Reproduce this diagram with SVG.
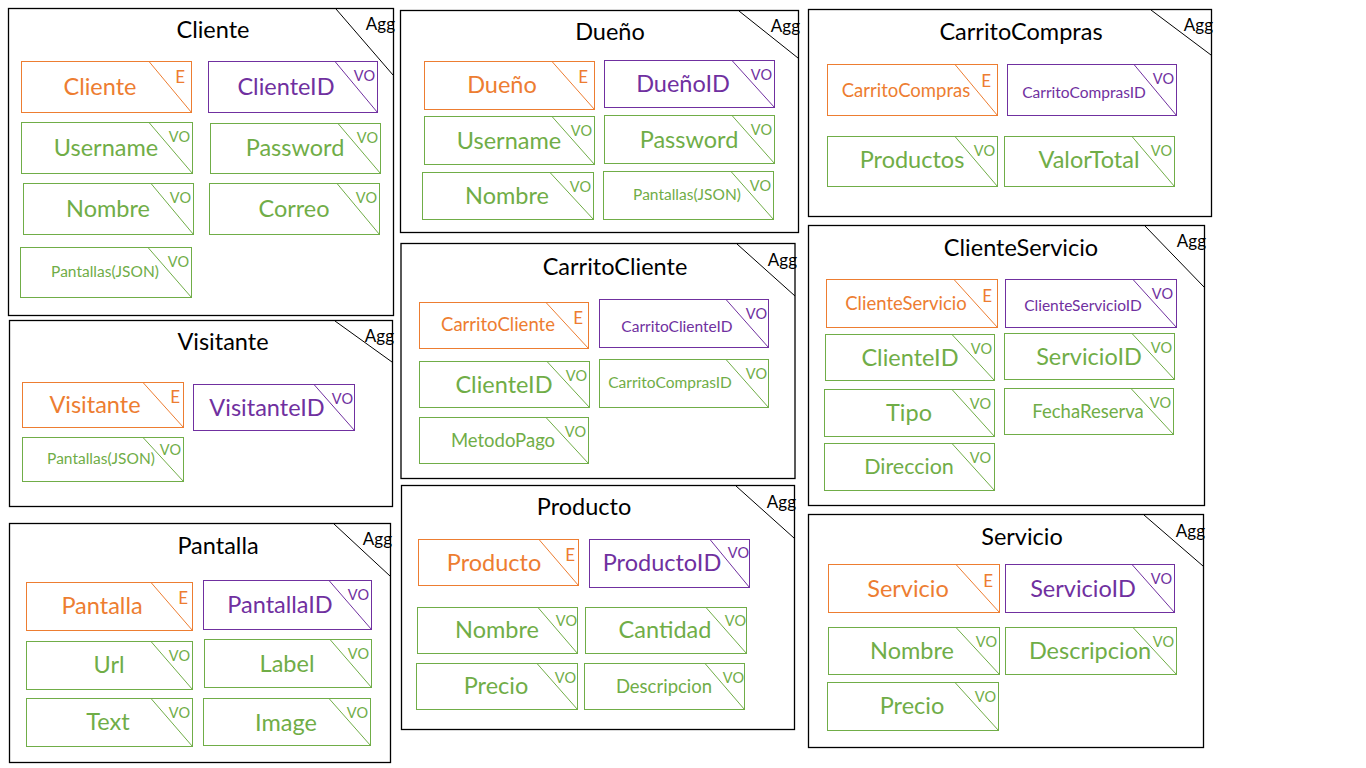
<svg xmlns="http://www.w3.org/2000/svg" width="1366" height="768" viewBox="0 0 1366 768">
<style>
text{font-family:Lato,"Liberation Sans",sans-serif}
.agg>rect{fill:#fff;stroke:#000;stroke-width:1.3}
.agg>line{stroke:#000;stroke-width:1}
.ttl{font-size:23.5px;text-anchor:middle;fill:#000}
.at{font-size:17px;text-anchor:end;fill:#000}
.n rect{fill:none;stroke-width:1}
.n line{stroke-width:1}
.n .l{font-size:23.5px;text-anchor:middle}
.n .s{font-size:18.5px}
.n .x{font-size:15.5px}
.n .k{font-size:14.5px;text-anchor:end}
.n .ke{font-size:17px;text-anchor:end}
.e rect,.e line{stroke:#ED7D31}.e text{fill:#ED7D31}
.i rect,.i line{stroke:#7030A0}.i text{fill:#7030A0}
.v rect,.v line{stroke:#70AD47}.v text{fill:#70AD47}
</style>
<rect width="1366" height="768" fill="#fff"/>
<g id="connectors"/>

<g id="agg-cliente" class="agg">
<rect x="8.5" y="8.5" width="385" height="307"/><line x1="336" y1="9" x2="393" y2="75"/>
<text class="ttl" x="213" y="38">Cliente</text><text class="at" x="395" y="30">Agg</text>
<g id="cliente-e" class="n e"><rect x="21.5" y="61.5" width="170" height="51"/><line x1="149" y1="61.5" x2="191.5" y2="112.5"/><text class="l" x="100" y="95">Cliente</text><text class="ke" x="185" y="83">E</text></g>
<g id="cliente-id" class="n i"><rect x="208.5" y="61.5" width="169" height="51"/><line x1="335" y1="61.5" x2="377.5" y2="112.5"/><text class="l" x="286" y="95">ClienteID</text><text class="k" x="375" y="81">VO</text></g>
<g id="cliente-username" class="n v"><rect x="21.5" y="122.5" width="171" height="51"/><line x1="149" y1="122.5" x2="192.5" y2="173.5"/><text class="l" x="106" y="156">Username</text><text class="k" x="190" y="142">VO</text></g>
<g id="cliente-password" class="n v"><rect x="210.5" y="123.5" width="170" height="50"/><line x1="338" y1="123.5" x2="380.5" y2="173.5"/><text class="l" x="295" y="156">Password</text><text class="k" x="378" y="143">VO</text></g>
<g id="cliente-nombre" class="n v"><rect x="23.5" y="183.5" width="170" height="51"/><line x1="151" y1="183.5" x2="193.5" y2="234.5"/><text class="l" x="108" y="217">Nombre</text><text class="k" x="191" y="203">VO</text></g>
<g id="cliente-correo" class="n v"><rect x="209.5" y="183.5" width="170" height="51"/><line x1="337" y1="183.5" x2="379.5" y2="234.5"/><text class="l" x="294" y="217">Correo</text><text class="k" x="377" y="203">VO</text></g>
<g id="cliente-pantallas" class="n v"><rect x="20.5" y="247.5" width="171" height="50"/><line x1="148" y1="247.5" x2="191.5" y2="297.5"/><text class="l x" x="105" y="277">Pantallas(JSON)</text><text class="k" x="189" y="267">VO</text></g>
</g>

<g id="agg-dueno" class="agg">
<rect x="400.5" y="10.5" width="398" height="222"/><line x1="739" y1="11" x2="798" y2="58"/>
<text class="ttl" x="610" y="40">Dueño</text><text class="at" x="800" y="32">Agg</text>
<g id="dueno-e" class="n e"><rect x="424.5" y="61.5" width="170" height="48"/><line x1="552" y1="61.5" x2="594.5" y2="109.5"/><text class="l" x="502" y="93">Dueño</text><text class="ke" x="588" y="83">E</text></g>
<g id="dueno-id" class="n i"><rect x="604.5" y="60.5" width="170" height="47"/><line x1="732" y1="60.5" x2="774.5" y2="107.5"/><text class="l" x="683" y="92">DueñoID</text><text class="k" x="772" y="80">VO</text></g>
<g id="dueno-username" class="n v"><rect x="424.5" y="116.5" width="170" height="48"/><line x1="552" y1="116.5" x2="594.5" y2="164.5"/><text class="l" x="509" y="149">Username</text><text class="k" x="592" y="136">VO</text></g>
<g id="dueno-password" class="n v"><rect x="604.5" y="115.5" width="170" height="48"/><line x1="732" y1="115.5" x2="774.5" y2="163.5"/><text class="l" x="689" y="148">Password</text><text class="k" x="772" y="135">VO</text></g>
<g id="dueno-nombre" class="n v"><rect x="422.5" y="172.5" width="171" height="47"/><line x1="550" y1="172.5" x2="593.5" y2="219.5"/><text class="l" x="507" y="204">Nombre</text><text class="k" x="591" y="192">VO</text></g>
<g id="dueno-pantallas" class="n v"><rect x="603.5" y="171.5" width="170" height="48"/><line x1="731" y1="171.5" x2="773.5" y2="219.5"/><text class="l x" x="687" y="200">Pantallas(JSON)</text><text class="k" x="771" y="191">VO</text></g>
</g>

<g id="agg-carritocompras" class="agg">
<rect x="808.5" y="9.5" width="403" height="207"/><line x1="1151" y1="10" x2="1211" y2="55"/>
<text class="ttl" x="1021" y="40">CarritoCompras</text><text class="at" x="1213" y="31">Agg</text>
<g id="cc-e" class="n e"><rect x="827.5" y="64.5" width="170" height="51"/><line x1="955" y1="64.5" x2="997.5" y2="115.5"/><text class="l s" x="906" y="97">CarritoCompras</text><text class="ke" x="991" y="87">E</text></g>
<g id="cc-id" class="n i"><rect x="1007.5" y="64.5" width="169" height="51"/><line x1="1134" y1="64.5" x2="1176.5" y2="115.5"/><text class="l x" x="1084" y="98">CarritoComprasID</text><text class="k" x="1174" y="84">VO</text></g>
<g id="cc-productos" class="n v"><rect x="827.5" y="136.5" width="170" height="50"/><line x1="955" y1="136.5" x2="997.5" y2="186.5"/><text class="l" x="912" y="168">Productos</text><text class="k" x="995" y="156">VO</text></g>
<g id="cc-valortotal" class="n v"><rect x="1004.5" y="136.5" width="170" height="50"/><line x1="1132" y1="136.5" x2="1174.5" y2="186.5"/><text class="l" x="1089" y="168">ValorTotal</text><text class="k" x="1172" y="156">VO</text></g>
</g>

<g id="agg-visitante" class="agg">
<rect x="9.5" y="320.5" width="383" height="186"/><line x1="335" y1="321" x2="392" y2="362"/>
<text class="ttl" x="223" y="350">Visitante</text><text class="at" x="394" y="342">Agg</text>
<g id="visitante-e" class="n e"><rect x="22.5" y="382.5" width="161" height="45"/><line x1="143" y1="382.5" x2="183.5" y2="427.5"/><text class="l" x="95" y="413">Visitante</text><text class="ke" x="180" y="403">E</text></g>
<g id="visitante-id" class="n i"><rect x="193.5" y="384.5" width="161" height="46"/><line x1="314" y1="384.5" x2="354.5" y2="430.5"/><text class="l" x="267" y="416">VisitanteID</text><text class="k" x="353" y="404">VO</text></g>
<g id="visitante-pantallas" class="n v"><rect x="22.5" y="437.5" width="161" height="44"/><line x1="143" y1="437.5" x2="183.5" y2="481.5"/><text class="l x" x="101" y="464">Pantallas(JSON)</text><text class="k" x="181" y="455">VO</text></g>
</g>

<g id="agg-carritocliente" class="agg">
<rect x="401" y="243.5" width="394" height="235"/><line x1="737" y1="244" x2="795" y2="296"/>
<text class="ttl" x="615" y="275">CarritoCliente</text><text class="at" x="797" y="266">Agg</text>
<g id="ccl-e" class="n e"><rect x="419.5" y="302.5" width="169" height="46"/><line x1="546" y1="302.5" x2="588.5" y2="348.5"/><text class="l s" x="498" y="331">CarritoCliente</text><text class="ke" x="583" y="324">E</text></g>
<g id="ccl-id" class="n i"><rect x="599.5" y="299.5" width="169" height="48"/><line x1="726" y1="299.5" x2="768.5" y2="347.5"/><text class="l x" x="677" y="332">CarritoClienteID</text><text class="k" x="767" y="319">VO</text></g>
<g id="ccl-clienteid" class="n v"><rect x="419.5" y="361.5" width="170" height="46"/><line x1="547" y1="361.5" x2="589.5" y2="407.5"/><text class="l" x="504" y="393">ClienteID</text><text class="k" x="587" y="381">VO</text></g>
<g id="ccl-carritocomprasid" class="n v"><rect x="599.5" y="359.5" width="169" height="48"/><line x1="726" y1="359.5" x2="768.5" y2="407.5"/><text class="l x" x="670" y="388">CarritoComprasID</text><text class="k" x="767" y="379">VO</text></g>
<g id="ccl-metodopago" class="n v"><rect x="419.5" y="417.5" width="169" height="46"/><line x1="546" y1="417.5" x2="588.5" y2="463.5"/><text class="l s" x="503" y="447">MetodoPago</text><text class="k" x="586" y="437">VO</text></g>
</g>

<g id="agg-clienteservicio" class="agg">
<rect x="808.5" y="225.5" width="396" height="280"/><line x1="1145" y1="226" x2="1204" y2="287"/>
<text class="ttl" x="1021" y="256">ClienteServicio</text><text class="at" x="1206" y="247">Agg</text>
<g id="cs-e" class="n e"><rect x="826.5" y="279.5" width="171" height="48"/><line x1="954" y1="279.5" x2="997.5" y2="327.5"/><text class="l s" x="906" y="310">ClienteServicio</text><text class="ke" x="992" y="302">E</text></g>
<g id="cs-id" class="n i"><rect x="1005.5" y="279.5" width="171" height="48"/><line x1="1133" y1="279.5" x2="1176.5" y2="327.5"/><text class="l x" x="1083" y="311">ClienteServicioID</text><text class="k" x="1173" y="299">VO</text></g>
<g id="cs-clienteid" class="n v"><rect x="825.5" y="334.5" width="169" height="46"/><line x1="952" y1="334.5" x2="994.5" y2="380.5"/><text class="l" x="910" y="366">ClienteID</text><text class="k" x="992" y="354">VO</text></g>
<g id="cs-servicioid" class="n v"><rect x="1004.5" y="333.5" width="170" height="46"/><line x1="1132" y1="333.5" x2="1174.5" y2="379.5"/><text class="l" x="1089" y="365">ServicioID</text><text class="k" x="1172" y="353">VO</text></g>
<g id="cs-tipo" class="n v"><rect x="824.5" y="389.5" width="170" height="47"/><line x1="952" y1="389.5" x2="994.5" y2="436.5"/><text class="l" x="909" y="421">Tipo</text><text class="k" x="991" y="409">VO</text></g>
<g id="cs-fechareserva" class="n v"><rect x="1004.5" y="388.5" width="169" height="46"/><line x1="1131" y1="388.5" x2="1173.5" y2="434.5"/><text class="l s" x="1088" y="418">FechaReserva</text><text class="k" x="1171" y="408">VO</text></g>
<g id="cs-direccion" class="n v"><rect x="824.5" y="443.5" width="170" height="47"/><line x1="952" y1="443.5" x2="994.5" y2="490.5"/><text class="l" x="909" y="474" style="font-size:21.5px">Direccion</text><text class="k" x="991" y="463">VO</text></g>
</g>

<g id="agg-pantalla" class="agg">
<rect x="9.5" y="523.5" width="381" height="239"/><line x1="334" y1="524" x2="390" y2="576"/>
<text class="ttl" x="218" y="554">Pantalla</text><text class="at" x="392" y="545">Agg</text>
<g id="pantalla-e" class="n e"><rect x="26.5" y="582.5" width="166" height="48"/><line x1="151" y1="582.5" x2="192.5" y2="630.5"/><text class="l" x="102" y="614">Pantalla</text><text class="ke" x="188" y="604">E</text></g>
<g id="pantalla-id" class="n i"><rect x="203.5" y="580.5" width="168" height="49"/><line x1="329" y1="580.5" x2="371.5" y2="629.5"/><text class="l" x="280" y="613">PantallaID</text><text class="k" x="369" y="600">VO</text></g>
<g id="pantalla-url" class="n v"><rect x="26.5" y="641.5" width="166" height="48"/><line x1="151" y1="641.5" x2="192.5" y2="689.5"/><text class="l" x="109" y="673">Url</text><text class="k" x="190" y="661">VO</text></g>
<g id="pantalla-label" class="n v"><rect x="204.5" y="639.5" width="167" height="48"/><line x1="330" y1="639.5" x2="371.5" y2="687.5"/><text class="l" x="287" y="672">Label</text><text class="k" x="369" y="659">VO</text></g>
<g id="pantalla-text" class="n v"><rect x="26.5" y="698.5" width="166" height="48"/><line x1="151" y1="698.5" x2="192.5" y2="746.5"/><text class="l" x="108" y="730">Text</text><text class="k" x="190" y="718">VO</text></g>
<g id="pantalla-image" class="n v"><rect x="203.5" y="698.5" width="167" height="47"/><line x1="329" y1="698.5" x2="370.5" y2="745.5"/><text class="l" x="286" y="731">Image</text><text class="k" x="368" y="718">VO</text></g>
</g>

<g id="agg-producto" class="agg">
<rect x="401.5" y="485.5" width="393" height="244"/><line x1="736" y1="486" x2="794" y2="538"/>
<text class="ttl" x="584" y="515">Producto</text><text class="at" x="796" y="508">Agg</text>
<g id="producto-e" class="n e"><rect x="418.5" y="539.5" width="160" height="46"/><line x1="539" y1="539.5" x2="578.5" y2="585.5"/><text class="l" x="494" y="571">Producto</text><text class="ke" x="575" y="561">E</text></g>
<g id="producto-id" class="n i"><rect x="589.5" y="539.5" width="160" height="48"/><line x1="710" y1="539.5" x2="749.5" y2="587.5"/><text class="l" x="662" y="571">ProductoID</text><text class="k" x="749" y="558">VO</text></g>
<g id="producto-nombre" class="n v"><rect x="417.5" y="607.5" width="160" height="46"/><line x1="538" y1="607.5" x2="577.5" y2="653.5"/><text class="l" x="497" y="638">Nombre</text><text class="k" x="577" y="626">VO</text></g>
<g id="producto-cantidad" class="n v"><rect x="585.5" y="607.5" width="161" height="46"/><line x1="706" y1="607.5" x2="746.5" y2="653.5"/><text class="l" x="665" y="638">Cantidad</text><text class="k" x="746" y="626">VO</text></g>
<g id="producto-precio" class="n v"><rect x="416.5" y="663.5" width="161" height="46"/><line x1="537" y1="663.5" x2="577.5" y2="709.5"/><text class="l" x="496" y="694">Precio</text><text class="k" x="576" y="683">VO</text></g>
<g id="producto-descripcion" class="n v"><rect x="584.5" y="663.5" width="160" height="46"/><line x1="705" y1="663.5" x2="744.5" y2="709.5"/><text class="l s" x="664" y="693">Descripcion</text><text class="k" x="744" y="683">VO</text></g>
</g>

<g id="agg-servicio" class="agg">
<rect x="808.5" y="514.5" width="395" height="233"/><line x1="1144" y1="515" x2="1203" y2="566"/>
<text class="ttl" x="1022" y="545">Servicio</text><text class="at" x="1205" y="537">Agg</text>
<g id="servicio-e" class="n e"><rect x="828.5" y="564.5" width="171" height="48"/><line x1="956" y1="564.5" x2="999.5" y2="612.5"/><text class="l" x="908" y="597">Servicio</text><text class="ke" x="993" y="587">E</text></g>
<g id="servicio-id" class="n i"><rect x="1005.5" y="564.5" width="169" height="48"/><line x1="1132" y1="564.5" x2="1174.5" y2="612.5"/><text class="l" x="1083" y="597">ServicioID</text><text class="k" x="1172" y="584">VO</text></g>
<g id="servicio-nombre" class="n v"><rect x="828.5" y="627.5" width="171" height="47"/><line x1="956" y1="627.5" x2="999.5" y2="674.5"/><text class="l" x="912" y="659">Nombre</text><text class="k" x="997" y="647">VO</text></g>
<g id="servicio-descripcion" class="n v"><rect x="1005.5" y="627.5" width="171" height="47"/><line x1="1133" y1="627.5" x2="1176.5" y2="674.5"/><text class="l" x="1090" y="659">Descripcion</text><text class="k" x="1174" y="647">VO</text></g>
<g id="servicio-precio" class="n v"><rect x="827.5" y="682.5" width="171" height="48"/><line x1="955" y1="682.5" x2="998.5" y2="730.5"/><text class="l" x="912" y="714">Precio</text><text class="k" x="996" y="702">VO</text></g>
</g>
</svg>
